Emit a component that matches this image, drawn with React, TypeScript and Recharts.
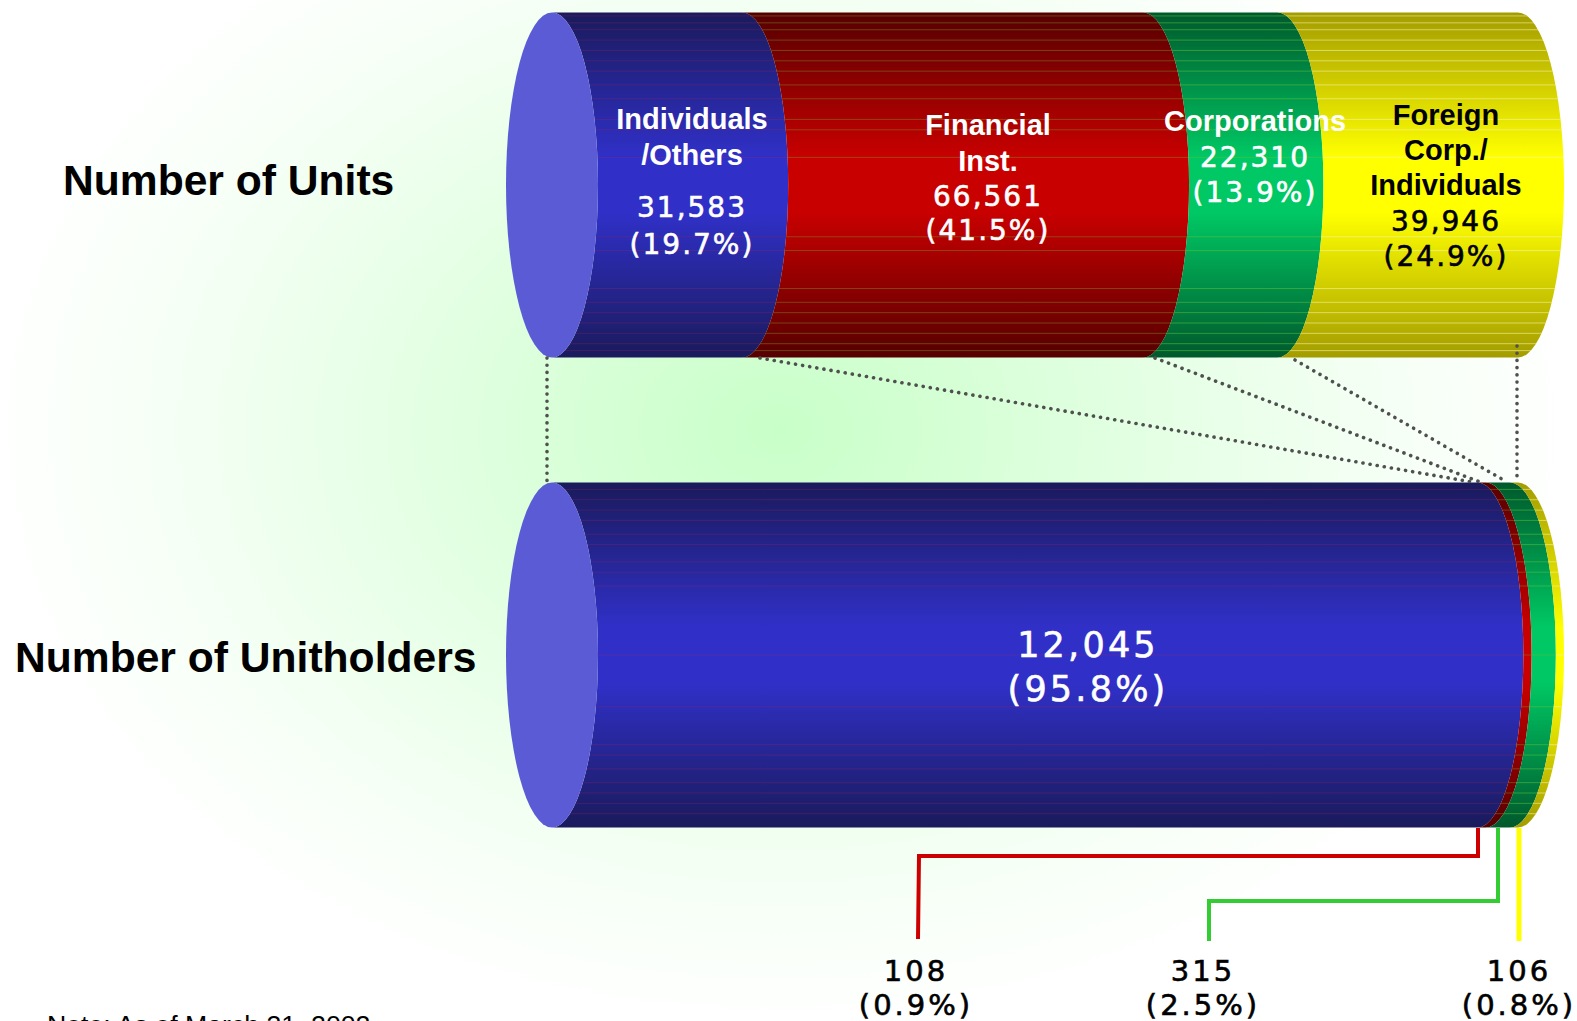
import React from 'react';
import { BarChart, Bar, XAxis, YAxis } from 'recharts';

const rowNames = ['Number of Units', 'Number of Unitholders'];
const individuals = [31583, 12045];
const financial = [66561, 108];
const corporations = [22310, 315];
const foreign = [39946, 106];

const SEGMENT_KEYS = ['individuals', 'financial', 'corporations', 'foreign'];
const EDGE_COLORS = ['#1a1a5c', '#560000', '#00592c', '#a39c00'];
const MID_COLORS = ['#3030c8', '#c80000', '#00c864', '#ffff00'];
const STREAK_COLORS = ['#a02860', '#80802a', '#58c040', '#f4f4a0'];
const STREAK_OPACITY = [0.28, 0.5, 0.55, 0.6];
const CAP_COLOR = '#5b5bd6';

// hairline streaks across each cylinder, as fractions of its height
const unitStreaks = [0.01, 0.03, 0.05, 0.08, 0.11, 0.14, 0.17, 0.21, 0.25, 0.31, 0.34, 0.42, 0.65, 0.69, 0.8, 0.84, 0.87, 0.9, 0.93, 0.96, 0.98];
const holderStreaks = [0.02, 0.05, 0.08, 0.11, 0.15, 0.18, 0.23, 0.26, 0.3, 0.5, 0.65, 0.76, 0.79, 0.83, 0.87, 0.9, 0.93, 0.96];

const RX = 46;
const rowTotals = individuals.map((v, i) => v + financial[i] + corporations[i] + foreign[i]);
const table = rowNames.map((name, i) => ({
  name,
  individuals: individuals[i],
  financial: financial[i],
  corporations: corporations[i],
  foreign: foreign[i],
}));

const count = (v: number) => v.toLocaleString('en-US');
const share = (v: number, row: number) => `(${((v / rowTotals[row]) * 100).toFixed(1)}%)`;

// One band of a cylinder: crescent between two elliptical cross sections
const cylinderSegment = (segment: number) => (props: any) => {
  const { x, y, width, height, index } = props;
  const ry = height / 2;
  const clipId = `seg-${segment}-${index}`;
  const d = `M${x},${y} L${x + width},${y} A${RX},${ry} 0 0 1 ${x + width},${y + height} L${x},${y + height} A${RX},${ry} 0 0 0 ${x},${y} Z`;
  const streaks = index === 0 ? unitStreaks : holderStreaks;
  return (
    <g>
      <clipPath id={clipId}>
        <path d={d} />
      </clipPath>
      <path d={d} fill={`url(#band-${segment})`} />
      <g clipPath={`url(#${clipId})`}>
        {streaks.map((f) => (
          <line
            key={f}
            x1={x}
            x2={x + width + RX}
            y1={y + f * height}
            y2={y + f * height}
            stroke={STREAK_COLORS[segment]}
            strokeWidth={1}
            opacity={STREAK_OPACITY[segment]}
          />
        ))}
      </g>
      {segment === 0 && <ellipse cx={x} cy={y + ry} rx={RX} ry={ry} fill={CAP_COLOR} />}
    </g>
  );
};

const Label = ({ x, y, size = 28, fill = '#fff', bold = false, spacing = 2, children }: any) => (
  <text
    x={x}
    y={y}
    textAnchor="middle"
    fill={fill}
    fontSize={size}
    fontWeight={bold ? 700 : 400}
    fontFamily={bold ? '"Liberation Sans", Arial, sans-serif' : '"DejaVu Sans", sans-serif'}
    letterSpacing={bold ? 0 : spacing}
    stroke={bold ? 'none' : fill}
    strokeWidth={bold ? 0 : 0.6}
  >
    {children}
  </text>
);

const Dotted = ({ points }: { points: string }) => (
  <polyline points={points} fill="none" stroke="#505050" strokeWidth={3.6} strokeLinecap="round" strokeDasharray="0.1 7.1" />
);

export default function App() {
  return (
    <div
      style={{
        position: 'absolute',
        left: 0,
        top: 0,
        width: 1577,
        height: 1021,
        overflow: 'hidden',
        background: 'radial-gradient(ellipse 800px 600px at 780px 430px, #c8ffc8 0%, #e6ffe6 50%, #f6fff6 78%, #ffffff 100%)',
      }}
    >
      <div style={{ position: 'absolute', left: 0, top: -52 }}>
        <BarChart
          width={1577}
          height={1073}
          data={table}
          layout="vertical"
          stackOffset="expand"
          barSize={345}
          margin={{ top: 1.5, right: 59, bottom: 131.5, left: 552 }}
        >
          <defs>
            {SEGMENT_KEYS.map((key, i) => (
              <linearGradient key={key} id={`band-${i}`} x1="0" y1="0" x2="0" y2="1">
                <stop offset="0" stopColor={EDGE_COLORS[i]} />
                <stop offset="0.42" stopColor={MID_COLORS[i]} />
                <stop offset="0.58" stopColor={MID_COLORS[i]} />
                <stop offset="1" stopColor={EDGE_COLORS[i]} />
              </linearGradient>
            ))}
          </defs>
          <XAxis type="number" domain={[0, 1]} hide />
          <YAxis type="category" dataKey="name" hide />
          {SEGMENT_KEYS.map((key, i) => (
            <Bar key={key} dataKey={key} stackId="all" isAnimationActive={false} shape={cylinderSegment(i)} />
          ))}
        </BarChart>
      </div>

      <svg width={1577} height={1021} style={{ position: 'absolute', left: 0, top: 0 }}>
        {/* dotted guides between the two cylinders */}
        <Dotted points="547,358 547,482" />
        <Dotted points="760,358 1472,482" />
        <Dotted points="1155,358 1480,482" />
        <Dotted points="1295,360 1507,482" />
        <Dotted points="1517,346 1517,480" />

        {/* leaders down to the small shares */}
        <polyline points="1478,828 1478,856 919,856 918,939" fill="none" stroke="#cc0000" strokeWidth={4} />
        <polyline points="1498,828 1498,901 1209,901 1209,941" fill="none" stroke="#33cc33" strokeWidth={4} />
        <polyline points="1519,828 1519,941" fill="none" stroke="#ffff00" strokeWidth={5} />

        <text x={63} y={195} fontSize={42.6} fontWeight={700} fontFamily='"Liberation Sans", Arial, sans-serif' fill="#000">
          {rowNames[0]}
        </text>
        <text x={15} y={672} fontSize={42.6} fontWeight={700} fontFamily='"Liberation Sans", Arial, sans-serif' fill="#000">
          {rowNames[1]}
        </text>

        <Label x={692} y={129} size={29} bold>Individuals</Label>
        <Label x={692} y={165} size={29} bold>/Others</Label>
        <Label x={692} y={217}>{count(individuals[0])}</Label>
        <Label x={692} y={254}>{share(individuals[0], 0)}</Label>

        <Label x={988} y={135} size={29} bold>Financial</Label>
        <Label x={988} y={171} size={29} bold>Inst.</Label>
        <Label x={988} y={206}>{count(financial[0])}</Label>
        <Label x={988} y={240}>{share(financial[0], 0)}</Label>

        <Label x={1255} y={131} size={29} bold>Corporations</Label>
        <Label x={1255} y={167}>{count(corporations[0])}</Label>
        <Label x={1255} y={202}>{share(corporations[0], 0)}</Label>

        <Label x={1446} y={125} size={29} fill="#000" bold>Foreign</Label>
        <Label x={1446} y={160} size={29} fill="#000" bold>Corp./</Label>
        <Label x={1446} y={195} size={29} fill="#000" bold>Individuals</Label>
        <Label x={1446} y={231} fill="#000">{count(foreign[0])}</Label>
        <Label x={1446} y={266} fill="#000">{share(foreign[0], 0)}</Label>

        <Label x={1088} y={657} size={35} spacing={3.2}>{count(individuals[1])}</Label>
        <Label x={1088} y={701} size={35} spacing={3.2}>{share(individuals[1], 1)}</Label>

        <Label x={916} y={981} size={29} spacing={3} fill="#000">{count(financial[1])}</Label>
        <Label x={916} y={1014.5} size={29} spacing={3} fill="#000">{share(financial[1], 1)}</Label>
        <Label x={1203} y={981} size={29} spacing={3} fill="#000">{count(corporations[1])}</Label>
        <Label x={1203} y={1014.5} size={29} spacing={3} fill="#000">{share(corporations[1], 1)}</Label>
        <Label x={1519} y={981} size={29} spacing={3} fill="#000">{count(foreign[1])}</Label>
        <Label x={1519} y={1014.5} size={29} spacing={3} fill="#000">{share(foreign[1], 1)}</Label>

        <text x={47} y={1034} fontSize={26.7} fontFamily='"Liberation Sans", Arial, sans-serif' fill="#000">
          Note: As of March 31, 2002
        </text>
      </svg>
    </div>
  );
}
